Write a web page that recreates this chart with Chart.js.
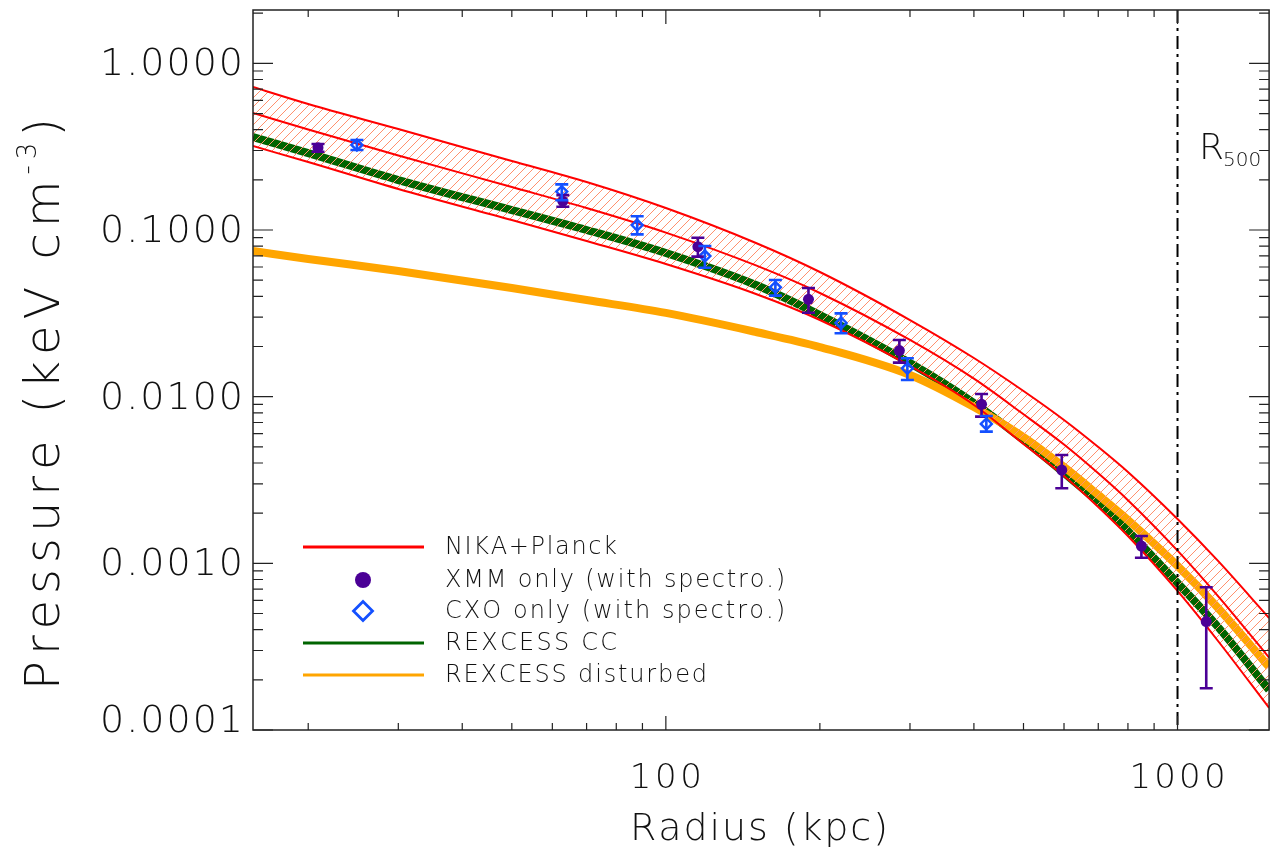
<!DOCTYPE html>
<html><head><meta charset="utf-8">
<script src="https://cdn.jsdelivr.net/npm/chart.js@4/dist/chart.umd.min.js"></script>
<style>html,body{margin:0;padding:0;background:#fff;}</style>
</head><body>
<canvas id="c" width="1277" height="854"></canvas>
<script>
// ---------- data ----------
const radius      = [15.6, 20, 30, 50, 70, 100, 150, 200, 300, 400, 500, 600, 700, 800, 1000, 1200, 1510];
const nikaUpper   = [0.7208, 0.5700, 0.4036, 0.2594, 0.1941, 0.1355, 0.0836, 0.0560, 0.02884, 0.01707, 0.01082, 0.00725, 0.00499, 0.003534, 0.001846, 0.001034, 0.000470];
const nikaBest    = [0.5032, 0.4008, 0.2803, 0.1811, 0.1355, 0.0965, 0.0613, 0.0419, 0.02189, 0.01282, 0.00784, 0.00516, 0.003466, 0.002393, 0.001192, 0.000636, 0.000272];
const nikaLower   = [0.3190, 0.2558, 0.1762, 0.1148, 0.0859, 0.0625, 0.0413, 0.02884, 0.01528, 0.00892, 0.00520, 0.003344, 0.002180, 0.001460, 0.000683, 0.000342, 0.0001357];
const rexcessCC   = [0.3613, 0.2896, 0.1995, 0.1318, 0.1000, 0.0728, 0.0468, 0.03092, 0.01593, 0.00917, 0.00550, 0.003486, 0.002335, 0.001564, 0.000763, 0.000415, 0.000174];
const rexcessDist = [0.0748, 0.0670, 0.0568, 0.0449, 0.0380, 0.0318, 0.02444, 0.01986, 0.01350, 0.00867, 0.00573, 0.003787, 0.002573, 0.001821, 0.000965, 0.000540, 0.000239];

const xmmR  = [20.9, 62.9, 115.5, 190, 286, 414, 594, 850, 1138];
const xmmP  = [0.312, 0.149, 0.0794, 0.0384, 0.0189, 0.0090, 0.00363, 0.00127, 0.000447];
const xmmLo = [0.295, 0.138, 0.0692, 0.0319, 0.0160, 0.00759, 0.00282, 0.00108, 0.000178];
const xmmHi = [0.328, 0.162, 0.0899, 0.0449, 0.0219, 0.01038, 0.00447, 0.00146, 0.000719];

const cxoR  = [24.9, 62.6, 87.9, 119.2, 163.7, 220, 296.5, 423];
const cxoP  = [0.324, 0.170, 0.107, 0.0698, 0.0453, 0.0277, 0.0148, 0.00686];
const cxoLo = [0.302, 0.151, 0.0942, 0.0594, 0.0404, 0.0240, 0.0126, 0.00617];
const cxoHi = [0.347, 0.188, 0.121, 0.0802, 0.0501, 0.0316, 0.0170, 0.00766];

const r500 = 1000;
const xTickValues = [100, 1000];
const xTickLabels = ['100', '1000'];
const yTickValues = [1, 0.1, 0.01, 0.001, 0.0001];
const yTickLabels = ['1.0000', '0.1000', '0.0100', '0.0010', '0.0001'];
const legendLabels = ['NIKA+Planck', 'XMM only (with spectro.)', 'CXO only (with spectro.)', 'REXCESS CC', 'REXCESS disturbed'];

// ---------- helpers ----------
const FONT = '"DejaVu Sans"';
const W = '200 ';
const pts = (xs, ys) => xs.map((x, i) => ({x, y: ys[i]}));

function drawSpaced(ctx, segs, x, y, target, align) {
  const chars = [];
  segs.forEach(s => { ctx.font = s.font; for (const ch of s.t) chars.push({ch, font: s.font, dy: s.dy || 0, w: ctx.measureText(ch).width}); });
  const nat = chars.reduce((a, c) => a + c.w, 0);
  const ls = chars.length > 1 ? (target - nat) / (chars.length - 1) : 0;
  let cx = align === 'center' ? x - target / 2 : (align === 'right' ? x - target : x);
  ctx.textAlign = 'left';
  chars.forEach(c => { ctx.font = c.font; ctx.fillText(c.ch, cx, y + c.dy); cx += c.w + ls; });
}

const cv = document.getElementById('c');
const mainCtx = cv.getContext('2d');
function makeHatch() {
  const c = document.createElement('canvas'); c.width = 9; c.height = 9;
  const g = c.getContext('2d');
  g.strokeStyle = 'rgb(255,145,110)'; g.lineWidth = 1;
  g.beginPath(); g.moveTo(-1, 10); g.lineTo(10, -1); g.stroke();
  return mainCtx.createPattern(c, 'repeat');
}
const hatch = makeHatch();

const RED = '#ff0000', GREEN = '#006400', ORANGE = '#ffa500', PURPLE = '#4b0096', BLUE = '#1450ff';

// ---------- plugins ----------
const errorBars = {
  id: 'errorBars',
  afterDatasetsDraw(chart) {
    const {ctx, scales: {x, y}} = chart;
    const draw = (rs, lo, hi, color) => {
      ctx.save(); ctx.strokeStyle = color; ctx.lineWidth = 2.6;
      rs.forEach((r, i) => {
        const px = x.getPixelForValue(r), y1 = y.getPixelForValue(lo[i]), y2 = y.getPixelForValue(hi[i]);
        ctx.beginPath();
        ctx.moveTo(px, y1); ctx.lineTo(px, y2);
        ctx.moveTo(px - 6.5, y1); ctx.lineTo(px + 6.5, y1);
        ctx.moveTo(px - 6.5, y2); ctx.lineTo(px + 6.5, y2);
        ctx.stroke();
      });
      ctx.restore();
    };
    draw(xmmR, xmmLo, xmmHi, PURPLE);
    draw(cxoR, cxoLo, cxoHi, BLUE);
    // R500 line
    const a = chart.chartArea;
    const px = x.getPixelForValue(r500);
    ctx.save(); ctx.strokeStyle = '#000'; ctx.lineWidth = 2;
    ctx.setLineDash([13, 5, 3, 5]);
    ctx.beginPath(); ctx.moveTo(px, a.top); ctx.lineTo(px, a.bottom); ctx.stroke();
    ctx.restore();
  }
};

const frame = {
  id: 'frame',
  afterDraw(chart) {
    const {ctx, scales: {x, y}, chartArea: a} = chart;
    ctx.save();
    ctx.strokeStyle = '#222'; ctx.lineWidth = 1.5;
    ctx.strokeRect(a.left, a.top, a.right - a.left, a.bottom - a.top);
    ctx.lineWidth = 1.2;
    ctx.beginPath();
    [10, 100, 1000].forEach(d => { for (let m = 1; m <= 9; m++) {
      const v = m * d; if (v < x.min || v > x.max) continue;
      const px = x.getPixelForValue(v), len = m === 1 ? 14 : 7;
      ctx.moveTo(px, a.bottom); ctx.lineTo(px, a.bottom - len);
      ctx.moveTo(px, a.top); ctx.lineTo(px, a.top + len);
    }});
    [0.0001, 0.001, 0.01, 0.1, 1].forEach(d => { for (let m = 1; m <= 9; m++) {
      const v = m * d; if (v < y.min * 0.999 || v > y.max) continue;
      const py = y.getPixelForValue(v), len = m === 1 ? 20 : 10;
      ctx.moveTo(a.left, py); ctx.lineTo(a.left + len, py);
      ctx.moveTo(a.right, py); ctx.lineTo(a.right - len, py);
    }});
    ctx.stroke();

    ctx.fillStyle = '#111';
    ctx.textBaseline = 'middle';
    // y tick labels
    yTickValues.forEach((v, i) => {
      const py = Math.min(y.getPixelForValue(v) + 2, 722);
      drawSpaced(ctx, [{t: yTickLabels[i], font: `${W}38px ${FONT}`}], 243, py, 143, 'right');
    });
    // x tick labels
    xTickValues.forEach((v, i) => {
      const px = x.getPixelForValue(v);
      drawSpaced(ctx, [{t: xTickLabels[i], font: `${W}34px ${FONT}`}], px, 779, xTickLabels[i].length * 24, 'center');
    });
    // x title
    drawSpaced(ctx, [{t: 'Radius (kpc)', font: `${W}38px ${FONT}`}], 759, 830, 258, 'center');
    // y title
    ctx.save(); ctx.translate(47, 404); ctx.rotate(-Math.PI / 2);
    drawSpaced(ctx, [
      {t: 'Pressure (keV cm', font: `${W}48px ${FONT}`},
      {t: '-3', font: `${W}26px ${FONT}`, dy: -18},
      {t: ')', font: `${W}48px ${FONT}`}
    ], 0, 0, 572, 'center');
    ctx.restore();
    // R500 label
    ctx.font = `${W}36px ${FONT}`; ctx.textAlign = 'left'; ctx.textBaseline = 'alphabetic';
    ctx.fillText('R', 1199, 159);
    ctx.font = `${W}20px ${FONT}`;
    ctx.fillText('500', 1223, 166);

    // legend
    const rows = [547, 580, 611, 643, 675];
    const widths = [172, 340, 340, 172, 262];
    ctx.textBaseline = 'middle';
    const line = (yy, col) => { ctx.strokeStyle = col; ctx.lineWidth = 3; ctx.beginPath(); ctx.moveTo(303, yy); ctx.lineTo(424, yy); ctx.stroke(); };
    line(rows[0], RED);
    ctx.fillStyle = PURPLE; ctx.beginPath(); ctx.arc(363, rows[1], 8, 0, Math.PI * 2); ctx.fill();
    ctx.strokeStyle = BLUE; ctx.lineWidth = 2.8; ctx.beginPath();
    ctx.moveTo(363, rows[2] - 9.5); ctx.lineTo(372.5, rows[2]); ctx.lineTo(363, rows[2] + 9.5); ctx.lineTo(353.5, rows[2]); ctx.closePath(); ctx.stroke();
    line(rows[3], GREEN);
    line(rows[4], ORANGE);
    ctx.fillStyle = '#111';
    legendLabels.forEach((t, i) => drawSpaced(ctx, [{t, font: `${W}24px ${FONT}`}], 445, rows[i] + 1, widths[i], 'left'));
    ctx.restore();
  }
};

// ---------- chart ----------
new Chart(cv, {
  type: 'line',
  data: {
    datasets: [
      {label: 'NIKA+Planck upper', data: pts(radius, nikaUpper), borderColor: RED, borderWidth: 2, pointRadius: 0,
       fill: {target: 2}, backgroundColor: hatch, cubicInterpolationMode: 'monotone', order: 3},
      {label: 'NIKA+Planck', data: pts(radius, nikaBest), borderColor: RED, borderWidth: 2, pointRadius: 0,
       fill: false, cubicInterpolationMode: 'monotone', order: 2},
      {label: 'NIKA+Planck lower', data: pts(radius, nikaLower), borderColor: RED, borderWidth: 2, pointRadius: 0,
       fill: false, cubicInterpolationMode: 'monotone', order: 2},
      {label: 'REXCESS CC', data: pts(radius, rexcessCC), borderColor: GREEN, borderWidth: 8, pointRadius: 0,
       fill: false, cubicInterpolationMode: 'monotone', order: 6},
      {label: 'REXCESS disturbed', data: pts(radius, rexcessDist), borderColor: ORANGE, borderWidth: 8, pointRadius: 0,
       fill: false, cubicInterpolationMode: 'monotone', order: 5},
      {label: 'XMM only (with spectro.)', data: pts(xmmR, xmmP), showLine: false, pointStyle: 'circle', pointRadius: 5.5,
       pointBackgroundColor: PURPLE, pointBorderColor: PURPLE, pointBorderWidth: 0, order: 0},
      {label: 'CXO only (with spectro.)', data: pts(cxoR, cxoP), showLine: false, pointStyle: 'rectRot', pointRadius: 5.5,
       pointBackgroundColor: 'rgba(0,0,0,0)', pointBorderColor: BLUE, pointBorderWidth: 2.4, order: 0}
    ]
  },
  options: {
    responsive: false, animation: false, devicePixelRatio: 1,
    layout: {padding: {top: 10, right: 7, bottom: 0, left: 0}},
    plugins: {legend: {display: false}, tooltip: {enabled: false}},
    scales: {
      x: {type: 'logarithmic', min: 15.6, max: 1510, grid: {display: false}, border: {display: false},
          ticks: {display: false}, afterFit(s) { s.height = 124; }},
      y: {type: 'logarithmic', min: 0.0001, max: 2.09, grid: {display: false}, border: {display: false},
          ticks: {display: false}, afterFit(s) { s.width = 253; }}
    }
  },
  plugins: [errorBars, frame]
});
</script>
</body></html>
